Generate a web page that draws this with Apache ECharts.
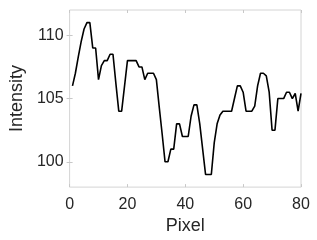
<!DOCTYPE html>
<html>
<head>
<meta charset="utf-8">
<script src="https://cdn.jsdelivr.net/npm/echarts@6/dist/echarts.min.js"></script>
<style>html,body{margin:0;padding:0;background:#fff}#c{width:317px;height:240px}</style>
</head>
<body>
<div id="c"></div>
<script>
const pixels = [];
for (let i = 1; i <= 80; i++) pixels.push(i);
const intensity = [
  106, 107, 108.3, 109.5, 110.5, 111, 111, 109, 109, 106.5,
  107.6, 108, 108, 108.5, 108.5, 106.2, 104, 104, 106, 108,
  108, 108, 108, 107.5, 107.5, 106.5, 107, 107, 107, 106.5,
  104.3, 102.2, 100, 100, 101, 101, 103, 103, 102, 102,
  102, 103.6, 104.5, 104.5, 103, 101, 99, 99, 99, 101.5,
  103, 103.7, 104, 104, 104, 104, 105, 106, 106, 105.5,
  104, 104, 104, 104.4, 106, 107, 107, 106.8, 105.5, 102.5,
  102.5, 105, 105, 105, 105.5, 105.5, 105, 105.4, 104, 105.4
];
const xTicks = [0, 20, 40, 60, 80];
const yTicks = [100, 105, 110];

const font = 'Liberation Sans, Arial, Helvetica, sans-serif';
const tickCol = '#c8c8c8';
const chart = echarts.init(document.getElementById('c'), null, {renderer: 'canvas'});
chart.setOption({
  animation: false,
  grid: {left: 63, right: 16, top: 10, bottom: 52, show: true, borderColor: '#d4d4d4', borderWidth: 1},
  xAxis: [{
    type: 'value', min: 0, max: 80, interval: 20,
    axisLine: {show: false},
    axisTick: {show: true, inside: true, length: 3, lineStyle: {color: tickCol}},
    splitLine: {show: false},
    axisLabel: {color: '#262626', fontSize: 16, fontFamily: font, margin: 9, customValues: xTicks},
    name: 'Pixel', nameLocation: 'middle', nameGap: 29,
    nameTextStyle: {color: '#262626', fontSize: 18, fontFamily: font}
  }, {
    type: 'value', min: 0, max: 80, interval: 20, position: 'top',
    axisLine: {show: false},
    axisTick: {show: true, inside: true, length: 3, lineStyle: {color: tickCol}},
    splitLine: {show: false}, axisLabel: {show: false}
  }],
  yAxis: [{
    type: 'value', min: 98, max: 112,
    axisLine: {show: false},
    axisTick: {show: true, inside: true, length: 3, lineStyle: {color: tickCol}, customValues: yTicks},
    splitLine: {show: false},
    axisLabel: {color: '#262626', fontSize: 16, fontFamily: font, margin: 6, customValues: yTicks},
    name: 'Intensity', nameLocation: 'middle', nameGap: 36, nameRotate: 90,
    nameTextStyle: {color: '#262626', fontSize: 18, fontFamily: font}
  }, {
    type: 'value', min: 98, max: 112, position: 'right',
    axisLine: {show: false},
    axisTick: {show: true, inside: true, length: 3, lineStyle: {color: tickCol}, customValues: yTicks},
    splitLine: {show: false}, axisLabel: {show: false}
  }],
  series: [{
    type: 'line',
    data: pixels.map((p, i) => [p, intensity[i]]),
    showSymbol: false,
    lineStyle: {color: '#000', width: 1.6},
    xAxisIndex: 0, yAxisIndex: 0
  }]
});
</script>
</body>
</html>
